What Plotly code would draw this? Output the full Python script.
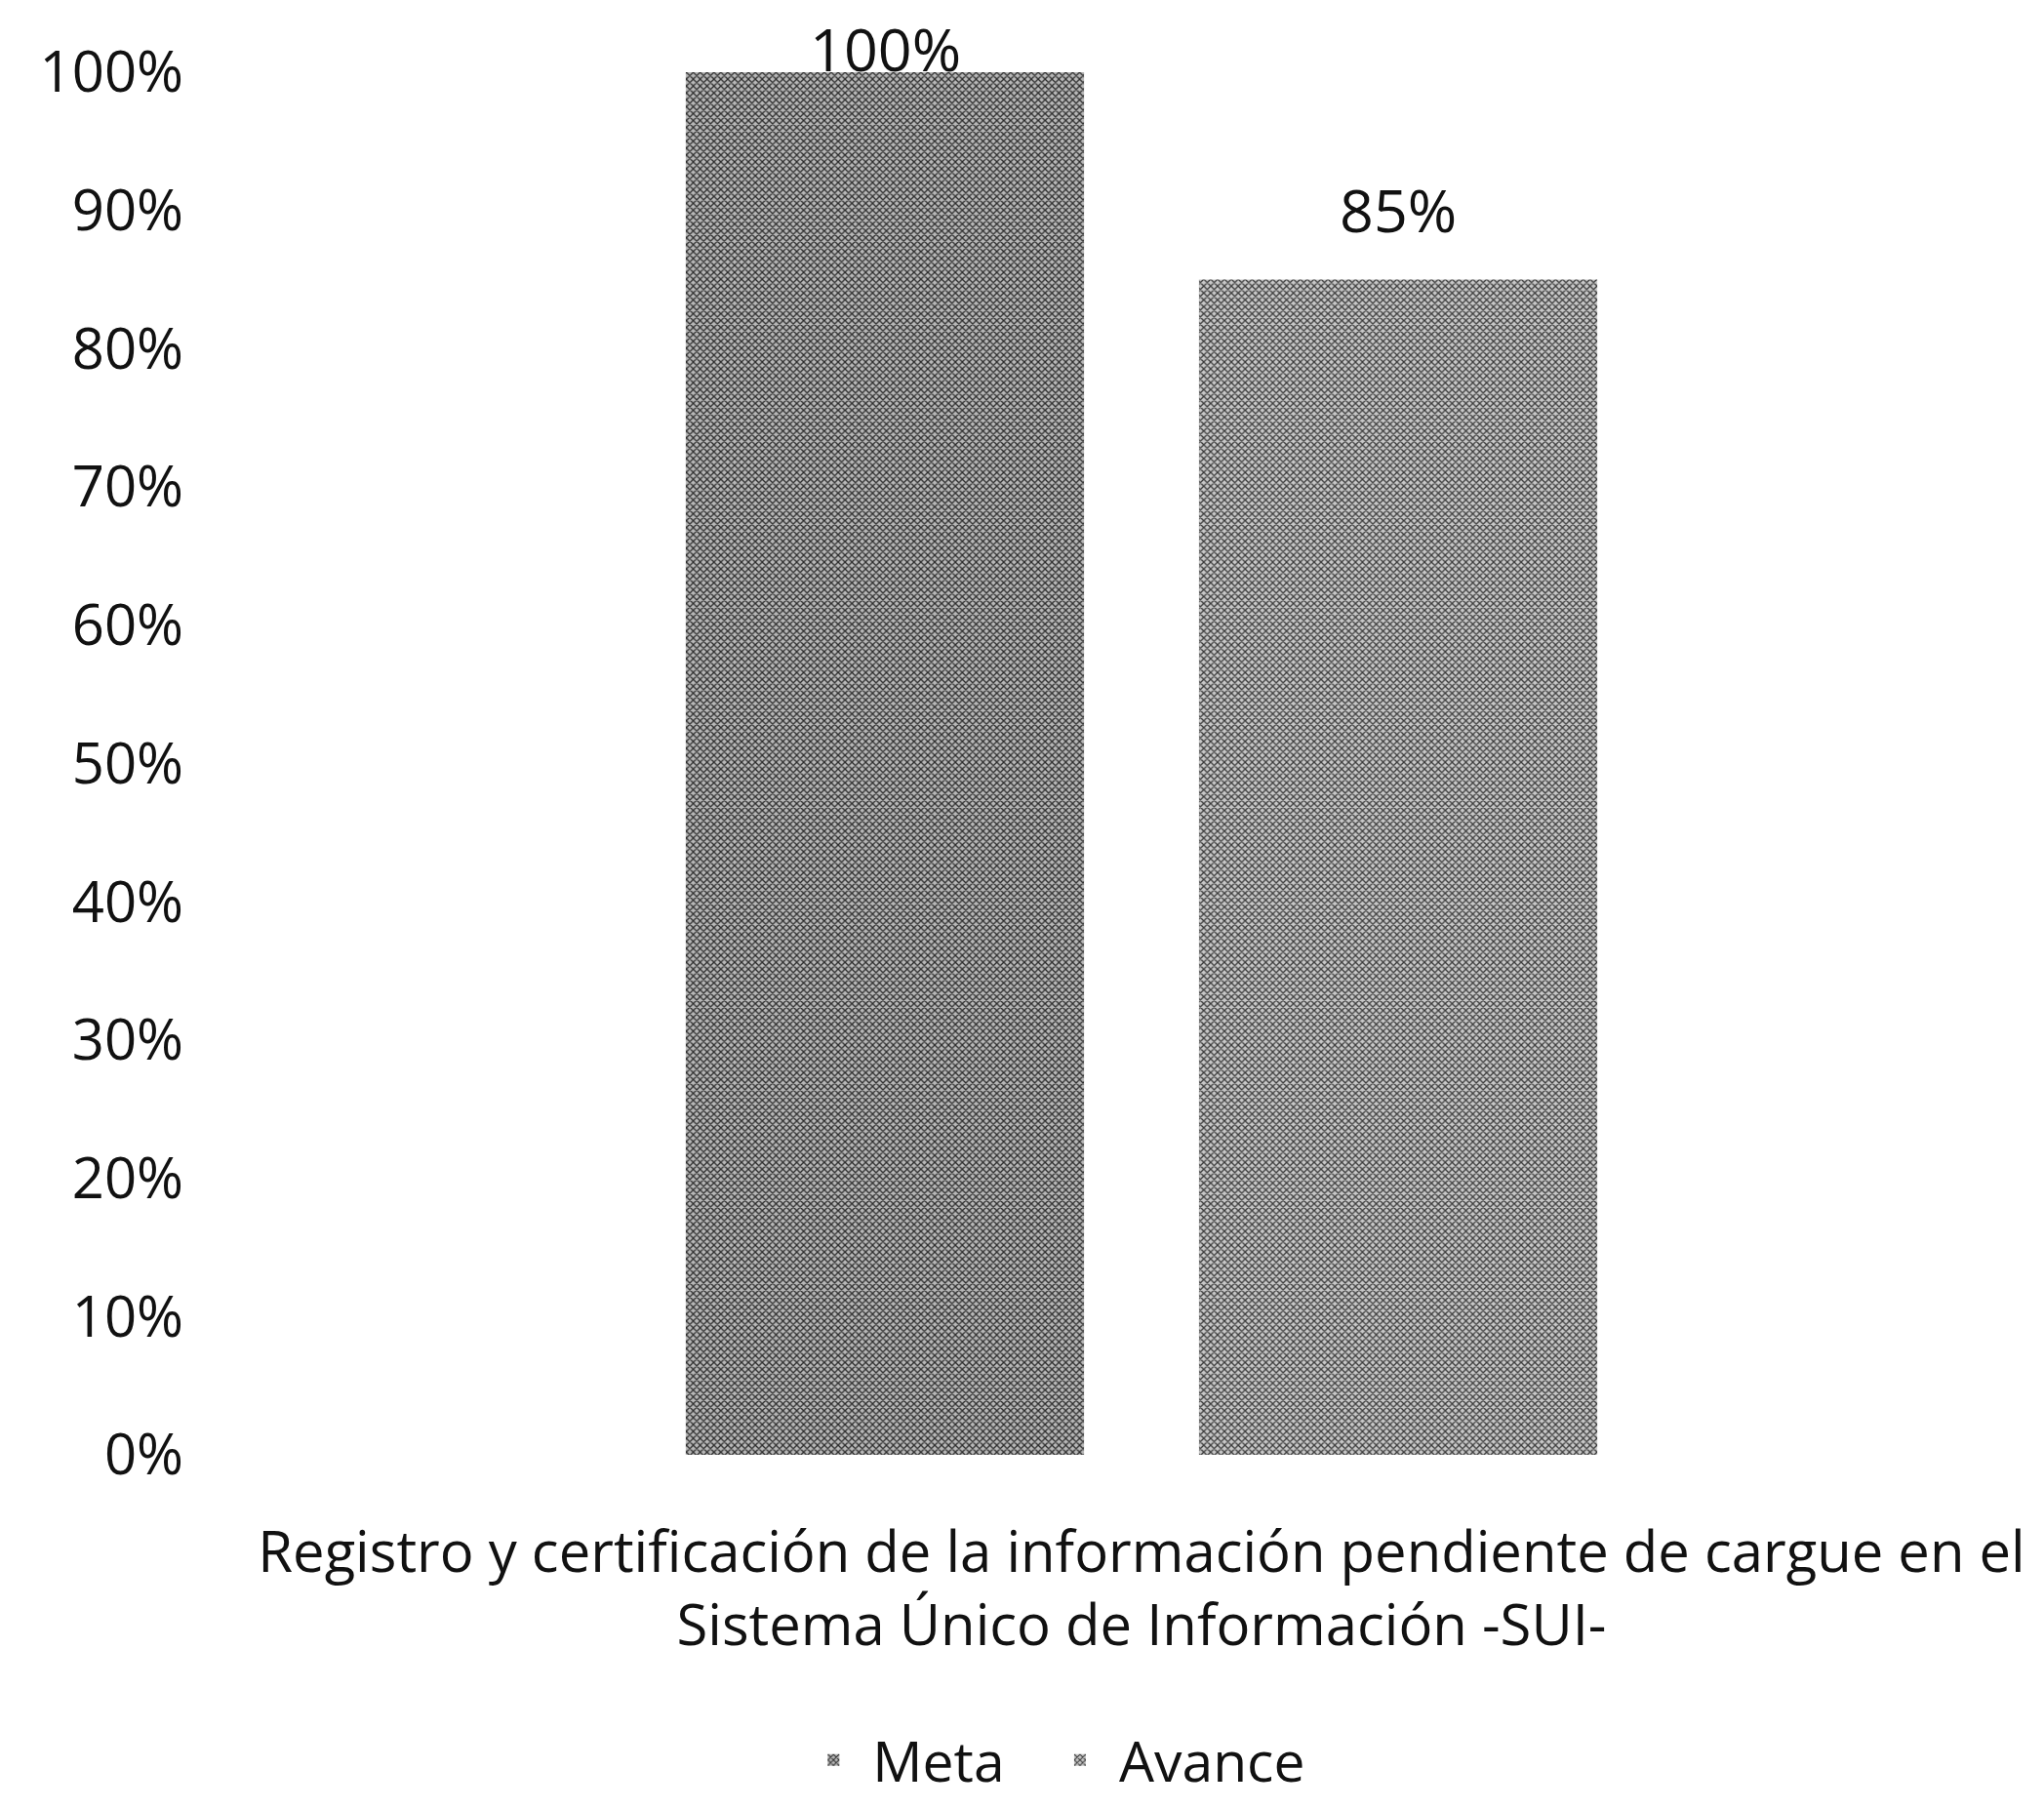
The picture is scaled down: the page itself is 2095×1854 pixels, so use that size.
import plotly.graph_objects as go

# single category (the task name), two series
categories = ["Registro y certificación de la información pendiente de cargue en el<br>Sistema Único de Información -SUI-"]
series_names = ["Meta", "Avance"]
meta_values = [1.00]
avance_values = [0.85]
y_ticks = [0.0, 0.1, 0.2, 0.3, 0.4, 0.5, 0.6, 0.7, 0.8, 0.9, 1.0]

FONT = "Open Sans"
bar_styles = [
    dict(fg="#2b2b2b", bg="#b8b8b8"),
    dict(fg="#3a3a3a", bg="#c8c8c8"),
]
label_shift = [25, 72]  # pixel offset of the value labels above the bars
legend_ids = ["legend", "legend2"]

fig = go.Figure()
for i, (name, vals) in enumerate(zip(series_names, [meta_values, avance_values])):
    st = bar_styles[i]
    fig.add_trace(go.Bar(
        x=categories,
        y=vals,
        name=name,
        legend=legend_ids[i],
        marker=dict(
            color=st["bg"],
            line=dict(width=0),
            pattern=dict(shape="x", fgcolor=st["fg"], bgcolor=st["bg"],
                         size=5, solidity=0.45, fillmode="replace"),
        ),
        offsetgroup=str(i),
    ))

# value labels above each bar
annotations = []
for i, vals in enumerate([meta_values, avance_values]):
    for cat, v in zip(categories, vals):
        annotations.append(dict(
            x=cat, y=v, xref="x", yref="y",
            text=f"{v:.0%}", showarrow=False,
            yanchor="middle", yshift=label_shift[i],
            xshift=(-263 if i == 0 else 263),
            font=dict(family=FONT, size=61, color="#111111"),
        ))

legend_style = dict(
    orientation="h",
    xanchor="left",
    y=-0.221, yanchor="middle",
    font=dict(family=FONT, size=57, color="#111111"),
    itemwidth=70,
    bgcolor="rgba(0,0,0,0)",
)

# page body adds an 8px margin, so the figure is kept 16px smaller than the window
fig.update_layout(
    width=2079,
    height=1838,
    paper_bgcolor="white",
    plot_bgcolor="white",
    margin=dict(l=250, r=5, t=66, b=355, autoexpand=False),
    barmode="group",
    bargap=0.4232,
    bargroupgap=0.224,
    font=dict(family=FONT, size=58, color="#111111"),
    annotations=annotations,
    showlegend=True,
    legend=dict(x=0.305, **legend_style),
    legend2=dict(x=0.4435, **legend_style),
)

fig.update_xaxes(
    showline=False,
    showgrid=False,
    ticks="",
    automargin=False,
    ticklabelstandoff=61,
    tickfont=dict(family=FONT, size=58, color="#111111"),
)

fig.update_yaxes(
    range=[0, 1],
    tickvals=y_ticks,
    tickformat=".0%",
    showgrid=False,
    zeroline=False,
    showline=False,
    ticks="",
    automargin=False,
    ticklabelstandoff=69,
    tickfont=dict(family=FONT, size=58, color="#111111"),
)

fig.write_html("out.html")
